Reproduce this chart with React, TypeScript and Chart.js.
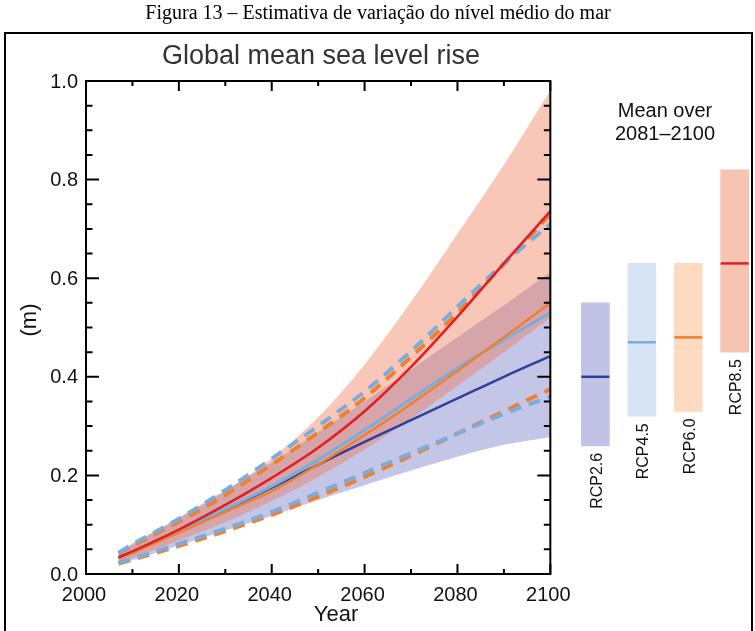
import React, { useEffect, useRef } from "react";
import { Chart, registerables } from "chart.js";

Chart.register(...registerables);

// ---- Data ----
const years = [2007, 2010, 2020, 2030, 2040, 2050, 2060, 2070, 2080, 2090, 2100];

const rcp85Mean = [0.034, 0.046, 0.090, 0.140, 0.195, 0.256, 0.330, 0.420, 0.522, 0.630, 0.736];
const rcp85High = [0.045, 0.062, 0.113, 0.168, 0.235, 0.318, 0.425, 0.552, 0.690, 0.830, 0.980];
const rcp85Low = [0.024, 0.033, 0.068, 0.105, 0.148, 0.197, 0.253, 0.315, 0.382, 0.450, 0.520];

const rcp26Mean = [0.032, 0.044, 0.086, 0.130, 0.175, 0.222, 0.268, 0.312, 0.356, 0.400, 0.442];
const rcp26High = [0.044, 0.060, 0.114, 0.170, 0.226, 0.288, 0.350, 0.415, 0.480, 0.545, 0.612];
const rcp26Low = [0.020, 0.028, 0.058, 0.088, 0.118, 0.150, 0.180, 0.210, 0.238, 0.262, 0.278];

const rcp45Mean = [0.033, 0.045, 0.088, 0.132, 0.178, 0.232, 0.292, 0.355, 0.418, 0.475, 0.530];
const rcp45High = [0.043, 0.060, 0.112, 0.170, 0.234, 0.300, 0.370, 0.452, 0.542, 0.630, 0.710];
const rcp45Low = [0.023, 0.031, 0.061, 0.092, 0.126, 0.165, 0.205, 0.245, 0.285, 0.325, 0.360];

const rcp60Mean = [0.032, 0.043, 0.084, 0.126, 0.168, 0.222, 0.282, 0.345, 0.412, 0.480, 0.550];
const rcp60High = [0.042, 0.057, 0.106, 0.160, 0.222, 0.287, 0.357, 0.440, 0.530, 0.628, 0.730];
const rcp60Low = [0.021, 0.029, 0.057, 0.087, 0.120, 0.157, 0.197, 0.240, 0.285, 0.330, 0.375];

// Mean over 2081–2100
const scenarios = ["RCP2.6", "RCP4.5", "RCP6.0", "RCP8.5"];
const periodLow = [0.26, 0.32, 0.33, 0.45];
const periodHigh = [0.55, 0.63, 0.63, 0.82];
const periodMedian = [0.40, 0.47, 0.48, 0.63];

const yTickLabels = [0, 0.2, 0.4, 0.6, 0.8, 1.0];
const xTickLabels = [2000, 2020, 2040, 2060, 2080, 2100];

// ---- Layout / style ----
const W = 755;
const H = 631;
const X_MIN = 2000;
const X_END = 2100;
const X_MAX = 2143;
const barSlots = [2109.7, 2119.7, 2129.7, 2139.7];

const SANS = "'Liberation Sans', Arial, Helvetica, sans-serif";
const SERIF = "'Liberation Serif', 'Times New Roman', serif";

const RED = "rgb(226,30,38)";
const DBLUE = "rgb(46,64,156)";
const LBLUE = "rgb(122,172,222)";
const ORANGE = "rgb(240,128,45)";
const RED_FILL = "rgba(240,115,75,0.40)";
const BLUE_FILL = "rgba(86,92,189,0.35)";
const barFills = ["rgb(192,195,229)", "rgb(214,228,246)", "rgb(253,218,192)", "rgb(248,196,178)"];
const medianColors = [DBLUE, LBLUE, ORANGE, RED];

const pts = (vals: number[]) => years.map((yr, i) => ({ x: yr, y: vals[i] }));

const framePlugin = {
  id: "frame",
  afterDatasetsDraw(chart: any) {
    const { ctx } = chart;
    const x = chart.scales.x;
    const y = chart.scales.y;
    const L = x.getPixelForValue(X_MIN);
    const R = x.getPixelForValue(X_END);
    const T = y.getPixelForValue(1);
    const B = y.getPixelForValue(0);
    ctx.save();

    // outer figure border
    ctx.strokeStyle = "#000";
    ctx.lineWidth = 2;
    ctx.strokeRect(5, 33, 747, 620);

    // plot frame
    ctx.lineWidth = 2;
    ctx.strokeRect(L, T, R - L, B - T);

    // y ticks (inward, both sides)
    for (let k = 0; k <= 20; k++) {
      const v = k * 0.05;
      const py = y.getPixelForValue(v);
      const major = k % 4 === 0;
      const len = major ? 13 : 6.5;
      ctx.beginPath();
      ctx.moveTo(L, py);
      ctx.lineTo(L + len, py);
      ctx.moveTo(R, py);
      ctx.lineTo(R - len, py);
      ctx.stroke();
    }
    // x ticks (inward, top and bottom)
    for (let yr = X_MIN; yr <= X_END; yr += 10) {
      const px = x.getPixelForValue(yr);
      const major = (yr - X_MIN) % 20 === 0;
      const len = major ? 10 : 5;
      ctx.beginPath();
      ctx.moveTo(px, B);
      ctx.lineTo(px, B - len);
      ctx.moveTo(px, T);
      ctx.lineTo(px, T + len);
      ctx.stroke();
    }

    ctx.fillStyle = "#111";
    // y tick labels
    ctx.font = `20px ${SANS}`;
    ctx.textAlign = "right";
    ctx.textBaseline = "middle";
    yTickLabels.forEach((v) => {
      ctx.fillText(v.toFixed(1), L - 8, y.getPixelForValue(v) + 1);
    });
    // x tick labels
    ctx.textAlign = "center";
    xTickLabels.forEach((v) => {
      ctx.fillText(String(v), x.getPixelForValue(v) - 2, B + 21);
    });

    // axis titles
    ctx.font = `22px ${SANS}`;
    ctx.fillText("Year", 336, 615);
    ctx.save();
    ctx.translate(30, 320);
    ctx.rotate(-Math.PI / 2);
    ctx.fillText("(m)", 0, 0);
    ctx.restore();

    // chart title
    ctx.fillStyle = "#333";
    ctx.font = `27px ${SANS}`;
    ctx.fillText("Global mean sea level rise", 321, 57);

    // caption
    ctx.fillStyle = "#000";
    ctx.font = `20px ${SERIF}`;
    ctx.fillText("Figura 13 – Estimativa de variação do nível médio do mar", 378, 14);

    // side panel heading
    ctx.fillStyle = "#111";
    ctx.font = `20px ${SANS}`;
    ctx.fillText("Mean over", 665, 111);
    ctx.fillText("2081–2100", 665, 134);

    // scenario labels under bars
    ctx.font = `16px ${SANS}`;
    ctx.textAlign = "right";
    scenarios.forEach((s, i) => {
      const px = x.getPixelForValue(barSlots[i]) + 2;
      const py = y.getPixelForValue(periodLow[i]) + 7;
      ctx.save();
      ctx.translate(px, py);
      ctx.rotate(-Math.PI / 2);
      ctx.fillText(s, 0, 0);
      ctx.restore();
    });

    ctx.restore();
  },
};

export default function App() {
  const ref = useRef<HTMLCanvasElement | null>(null);

  useEffect(() => {
    if (!ref.current) return;
    const bandLine = { borderColor: "rgba(0,0,0,0)", borderWidth: 0, pointRadius: 0, cubicInterpolationMode: "monotone" };
    const meanLine = (data: number[], color: string, width: number, order: number) => ({
      type: "line",
      data: pts(data),
      borderColor: color,
      borderWidth: width,
      pointRadius: 0,
      fill: false,
      order,
      cubicInterpolationMode: "monotone",
    });
    const dashLine = (data: number[], color: string, order: number) => ({
      type: "line",
      data: pts(data),
      borderColor: color,
      borderWidth: 4,
      borderDash: [12, 8],
      pointRadius: 0,
      fill: false,
      order,
      cubicInterpolationMode: "monotone",
    });

    const chart = new Chart(ref.current, {
      type: "line",
      data: {
        datasets: [
          // RCP2.6 band
          { ...bandLine, type: "line", data: pts(rcp26High), fill: "+1", backgroundColor: BLUE_FILL, order: 21 },
          { ...bandLine, type: "line", data: pts(rcp26Low), fill: false, order: 21 },
          // RCP8.5 band
          { ...bandLine, type: "line", data: pts(rcp85High), fill: "+1", backgroundColor: RED_FILL, order: 20 },
          { ...bandLine, type: "line", data: pts(rcp85Low), fill: false, order: 20 },
          // RCP4.5 / RCP6.0 ranges (dashed)
          dashLine(rcp60Low, ORANGE, 12),
          dashLine(rcp45Low, LBLUE, 11),
          dashLine(rcp60High, ORANGE, 10),
          dashLine(rcp45High, LBLUE, 9),
          // means
          meanLine(rcp26Mean, DBLUE, 2.5, 6),
          meanLine(rcp45Mean, LBLUE, 3, 5),
          meanLine(rcp60Mean, ORANGE, 2.5, 4),
          meanLine(rcp85Mean, RED, 2.6, 3),
          // mean over 2081–2100 bars
          {
            type: "bar",
            data: scenarios.map((_, i) => ({ x: barSlots[i], y: [periodLow[i], periodHigh[i]] })),
            backgroundColor: barFills,
            borderWidth: 0,
            barThickness: 28,
            grouped: false,
            order: 2,
          },
          {
            type: "line",
            data: scenarios.map((_, i) => ({ x: barSlots[i], y: periodMedian[i] })),
            showLine: false,
            pointStyle: "line",
            pointRadius: 14,
            pointBorderWidth: 2.5,
            pointBorderColor: medianColors,
            pointBackgroundColor: medianColors,
            order: 1,
          },
        ] as any,
      },
      options: {
        responsive: false,
        animation: false,
        events: [],
        devicePixelRatio: 1,
        layout: { autoPadding: false, padding: { left: 86, right: 5, top: 81, bottom: 57 } },
        plugins: { legend: { display: false }, tooltip: { enabled: false }, title: { display: false } },
        scales: {
          x: { type: "linear", min: X_MIN, max: X_MAX, display: false, offset: false },
          y: { type: "linear", min: 0, max: 1, display: false },
        },
      } as any,
      plugins: [framePlugin],
    });
    return () => chart.destroy();
  }, []);

  return (
    <div style={{ position: "fixed", left: 0, top: 0, width: W, height: H, background: "#fff" }}>
      <canvas ref={ref} width={W} height={H} style={{ width: W, height: H, display: "block" }} />
    </div>
  );
}
